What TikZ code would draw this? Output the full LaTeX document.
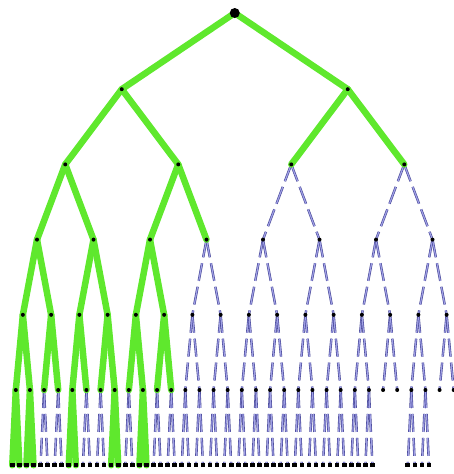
\documentclass[tikz,border=0pt]{standalone}
\usetikzlibrary{backgrounds}
\definecolor{grn}{RGB}{95,232,45}
\definecolor{bedge}{RGB}{70,70,150}
\definecolor{bfill}{RGB}{160,160,230}
\tikzset{
 dot/.style={circle,fill=black,inner sep=0pt,minimum size=4pt},
 rootdot/.style={circle,fill=black,inner sep=0pt,minimum size=10pt},
 leaf/.style={rectangle,fill=black,inner sep=0pt,minimum width=4.6pt,minimum height=3.6pt},
 gedge/.style={draw=grn,line width=6.5pt,line cap=round},
 bluedge/.style={draw=bedge,line width=0.6pt,double=bfill,double distance=1.2pt,dash pattern=on 18pt off 6pt},
}
\begin{document}
\begin{tikzpicture}[x=1pt,y=-1pt]
\useasboundingbox (0,0) rectangle (454,474);
% internal nodes
\node[rootdot] (n-0-0) at (234.75,13) {};
\foreach \l in {1,...,5} {
  \pgfmathtruncatemacro\last{2^\l-1}
  \foreach \i in {0,...,\last} {
    \pgfmathsetmacro\xx{8.75+452/(2^\l)*(\i+0.5)}
    \pgfmathsetmacro\yy{14+75.2*\l}
    \node[dot] (n-\l-\i) at (\xx,\yy) {};
  }
}
% leaves
\foreach \k in {0,...,25,28,29} {
  \foreach \c in {0,1} {
    \pgfmathtruncatemacro\j{2*\k+\c}
    \pgfmathsetmacro\xx{8.75+452/64*(\j+0.5)}
    \node[leaf] (n-6-\j) at (\xx,465.2) {};
  }
}
\begin{pgfonlayer}{background}
% blue edges
\foreach \l in {0,...,4} {
  \pgfmathtruncatemacro\last{2^\l-1}
  \pgfmathtruncatemacro\nl{\l+1}
  \foreach \i in {0,...,\last} {
    \pgfmathtruncatemacro\a{2*\i}
    \pgfmathtruncatemacro\b{2*\i+1}
    \draw[bluedge] (n-\l-\i.center) -- (n-\nl-\a.center);
    \draw[bluedge] (n-\l-\i.center) -- (n-\nl-\b.center);
  }
}
\foreach \k in {0,...,25,28,29} {
  \pgfmathtruncatemacro\a{2*\k}
  \pgfmathtruncatemacro\b{2*\k+1}
  \draw[bluedge] (n-5-\k.center) -- (n-6-\a.center);
  \draw[bluedge] (n-5-\k.center) -- (n-6-\b.center);
}
% green edges
\foreach \p/\c in {0-0/1-0, 0-0/1-1, 1-0/2-0, 1-0/2-1, 1-1/2-2, 1-1/2-3,
  2-0/3-0, 2-0/3-1, 2-1/3-2, 2-1/3-3, 3-0/4-0, 3-0/4-1, 3-1/4-2, 3-1/4-3,
  3-2/4-4, 3-2/4-5, 4-0/5-0, 4-0/5-1, 4-1/5-2, 4-1/5-3, 4-2/5-4, 4-2/5-5,
  4-3/5-6, 4-3/5-7, 4-4/5-8, 4-4/5-9, 4-5/5-10, 4-5/5-11,
  5-0/6-0, 5-0/6-1, 5-1/6-2, 5-1/6-3, 5-4/6-8, 5-4/6-9, 5-7/6-14, 5-7/6-15,
  5-9/6-18, 5-9/6-19}
  \draw[gedge] (n-\p.center) -- (n-\c.center);
\end{pgfonlayer}
\end{tikzpicture}
\end{document}
